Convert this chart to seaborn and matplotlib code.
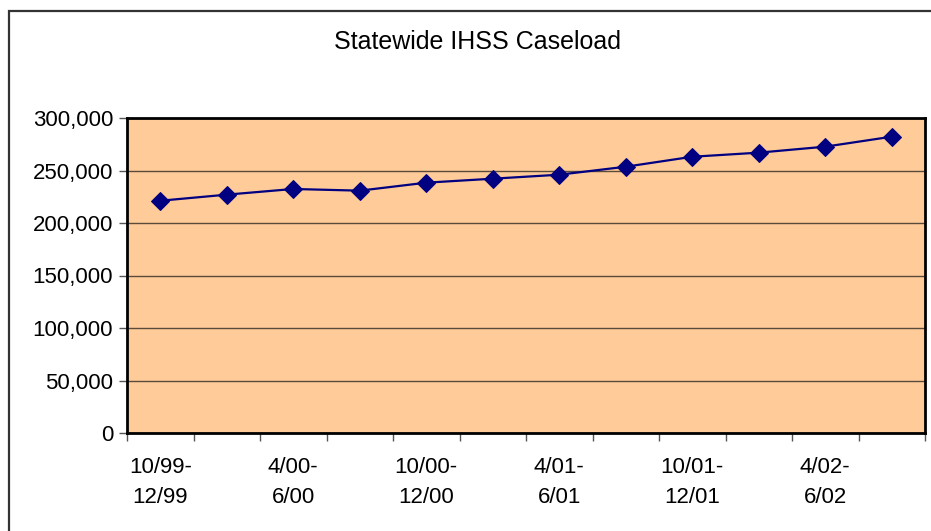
import numpy as np
import matplotlib.pyplot as plt
import seaborn as sns
from matplotlib.patches import Rectangle
from matplotlib.ticker import FuncFormatter, MultipleLocator

# 数据
quarters = ['10/99-\n12/99', '1/00-\n3/00', '4/00-\n6/00', '7/00-\n9/00',
            '10/00-\n12/00', '1/01-\n3/01', '4/01-\n6/01', '7/01-\n9/01',
            '10/01-\n12/01', '1/02-\n3/02', '4/02-\n6/02', '7/02-\n9/02']
caseload = [221200, 227000, 232400, 230800, 238400, 242200,
            246000, 253600, 263100, 267000, 272700, 282200]
title = 'Statewide IHSS Caseload'

sns.set_theme(style='white')
plt.rcParams['font.family'] = ['Liberation Sans', 'DejaVu Sans']
plt.rcParams['text.color'] = 'black'
plt.rcParams['xtick.color'] = 'black'
plt.rcParams['ytick.color'] = 'black'

fig = plt.figure(figsize=(9.31, 5.31), dpi=100)
ax = fig.add_axes([127 / 931, 1 - 433 / 531, (925 - 127) / 931, (433 - 118) / 531])

# 外框
fig.patches.append(Rectangle((9 / 931, -0.1), 1.2, 1 - 11 / 531 + 0.1,
                             transform=fig.transFigure, fill=False,
                             edgecolor='#333333', linewidth=1.6))

x = np.arange(len(caseload))
sns.lineplot(x=x, y=caseload, ax=ax, color='#000080', linewidth=1.6,
             marker='D', markersize=9, markeredgecolor='#000080')

ax.set_facecolor('#FFCC99')
ax.set_xlim(-0.5, len(caseload) - 0.5)
ax.set_ylim(0, 300000)
ax.yaxis.set_major_locator(MultipleLocator(50000))
ax.yaxis.set_major_formatter(FuncFormatter(lambda v, p: f'{int(v):,}'))
ax.grid(axis='y', color='#5a4a3a', linewidth=1)
ax.grid(axis='x', visible=False)

# x 轴：标签在点上，刻度在分界处
ax.set_xticks(x[::2])
ax.set_xticklabels(quarters[::2], linespacing=1.6)
ax.set_xticks(np.arange(-0.5, len(caseload), 1), minor=True)
ax.tick_params(axis='x', which='major', length=0, pad=17, labelsize=16,
               labelcolor='black')
ax.tick_params(axis='x', which='minor', length=6, width=1, color='#555555',
               direction='out', bottom=True)
ax.tick_params(axis='y', which='major', length=6, width=1, color='#555555',
               direction='out', left=True, labelsize=16, pad=4,
               labelcolor='black')

for s in ax.spines.values():
    s.set_color('black')
    s.set_linewidth(2)

fig.text(478 / 931, 1 - 42 / 531, title, ha='center', va='center',
         fontsize=18, color='black')

fig.savefig('out.png', dpi=100, facecolor='white')
